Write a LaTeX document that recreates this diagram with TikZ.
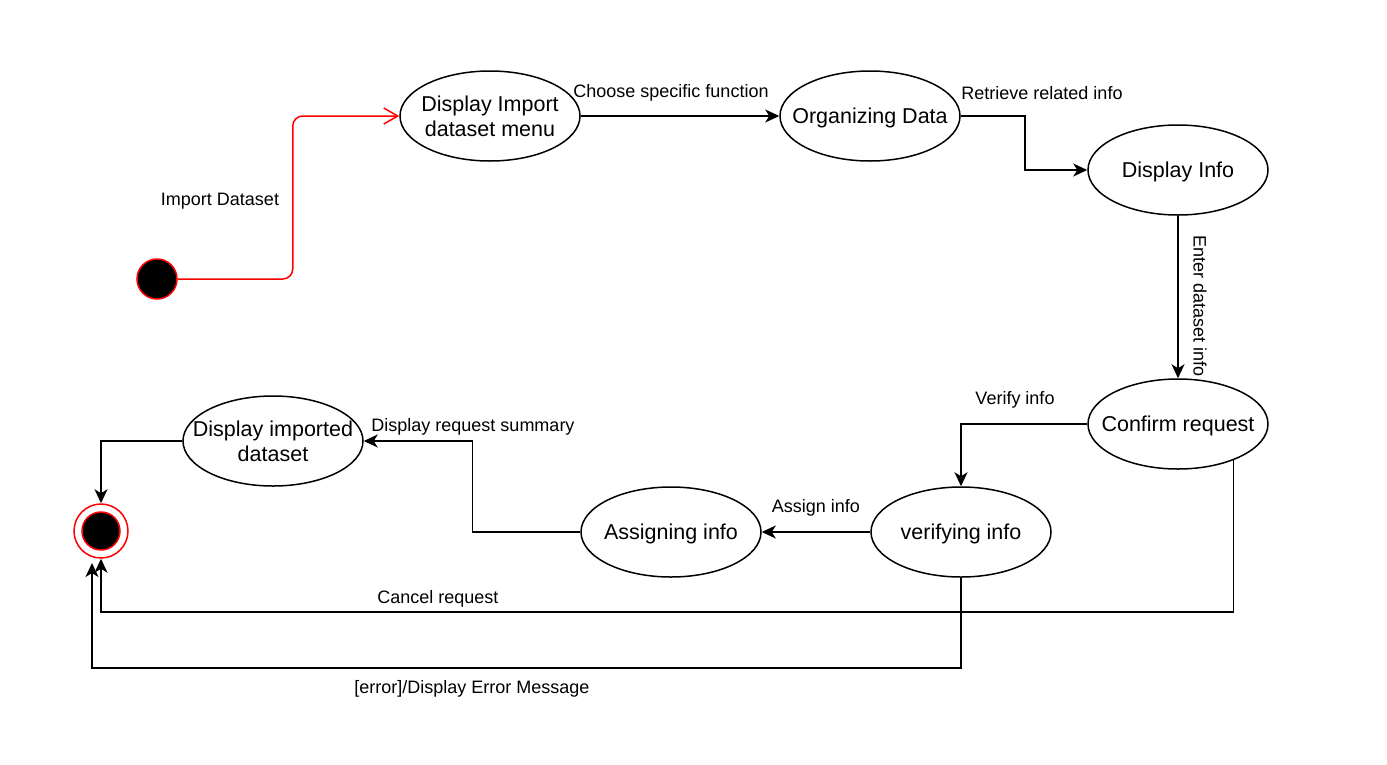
\documentclass[tikz,border=0pt]{standalone}
\usepackage{fontspec}
\setmainfont{Liberation Sans}
\usetikzlibrary{shapes.geometric,arrows.meta}
\tikzset{
    act/.style={shape=ellipse,draw=black,line width=1.5pt,minimum width=180pt,minimum height=90pt,inner sep=-20pt,align=center,font=\fontsize{21.5}{25}\selectfont},
    act1/.style={act,text depth=0pt},
    lbl/.style={inner sep=0pt,font=\fontsize{18}{21}\selectfont},
    flow/.style={line width=1.5pt,-{Stealth[length=14pt,width=13pt,inset=4pt]}},
}
\begin{document}
\begin{tikzpicture}[x=1pt,y=-1pt]
        \useasboundingbox (0,0) rectangle (1387,764);
        \node[shape=circle,draw=red,fill=black,line width=1.5pt,minimum size=40pt,inner sep=0pt] (start) at (157,279) {};
        \node[act]  (menu)     at (490,116)  {Display Import\\dataset menu};
        \node[act1] (organize) at (870,116)  {Organizing Data};
        \node[act1] (info)     at (1178,170) {Display Info};
        \node[act1] (confirm)  at (1178,424) {Confirm request};
        \node[act1] (verify)   at (961,532)  {verifying info};
        \node[act1] (assign)   at (671,532)  {Assigning info};
        \node[act]  (disp)     at (273,441)  {Display imported\\dataset};
        \node[shape=circle,draw=red,line width=1.5pt,minimum size=54pt,inner sep=0pt] (end) at (101,531) {};
        \node[shape=circle,draw=red,fill=black,line width=1.5pt,minimum size=38pt,inner sep=0pt] (endin) at (101,531) {};
        \coordinate (errend) at (92,563);

        \draw [red,line width=1.5pt,rounded corners=10pt,-{Straight Barb[length=14pt,width=16pt]}] (start.east) -- ++(115,0) |- (menu.west);
        \path [flow] (menu) edge (organize);
        \draw [flow] (organize.east) -- ++(64,0) |- (info.west);
        \path [flow] (info) edge (confirm);
        \draw [flow] (confirm.west) -| (verify.north);
        \path [flow] (verify) edge (assign);
        \draw [flow] (assign.west) -- ++(-108,0) |- (disp.east);
        \draw [flow] (disp.west) -| (end.north);
        \draw [flow] (confirm.-33.7) -- ++(0,152) -| (end.south);
        \draw [flow] (verify.south) -- ++(0,90) -| (errend);

        \node[lbl] (limport)  at (220,201) {Import Dataset};
        \node[lbl] (lchoose)  at (671,93)  {Choose specific function};
        \node[lbl] (lretr)    at (1042,93) {Retrieve related info};
        \node[lbl,rotate=-90] (lenter) at (1200,306) {Enter dataset info};
        \node[lbl] (lverify)  at (1015,400) {Verify info};
        \node[lbl] (lassign)  at (816,508) {Assign info};
        \node[lbl] (lsummary) at (473,427) {Display request summary};
        \node[lbl] (lcancel)  at (438,599) {Cancel request};
        \node[lbl] (lerror)   at (472,689) {[error]/Display Error Message};
    \end{tikzpicture}
\end{document}
